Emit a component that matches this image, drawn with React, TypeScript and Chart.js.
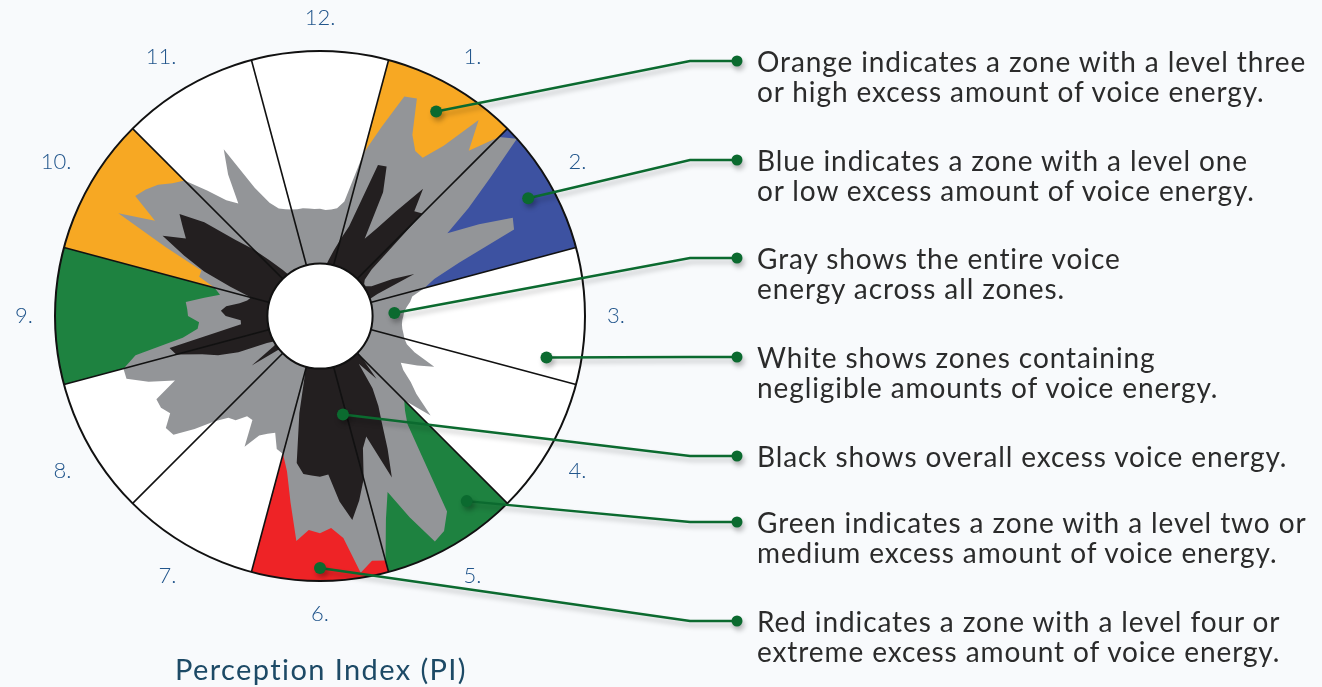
import React, { useEffect, useRef } from 'react';
import { Chart, registerables } from 'chart.js';

Chart.register(...registerables);

// One reading every 3 degrees, clockwise from 12 o'clock
const STEP_DEG = 3;
const OUTER_VALUE = 267;
const INNER_VALUE = 53;

const zoneLabels = ['12.', '1.', '2.', '3.', '4.', '5.', '6.', '7.', '8.', '9.', '10.', '11.'];
const zoneColors = ['white', 'orange', 'blue', 'white', 'white', 'green', 'red', 'white', 'white', 'green', 'orange', 'white'];
const palette: Record<string, string> = {
  white: '#ffffff',
  orange: '#F7A823',
  blue: '#3D52A1',
  green: '#1E8240',
  red: '#EE2326',
};

// Gray: entire voice energy (0°, 3°, ... 357°)
const grayEnergy = [
  108, 107, 108, 110, 118, 170, 200, 237, 240, 205,
  192, 190, 212, 254, 224, 255, 267, 220, 185, 153,
  185, 218, 214, 150, 121, 109, 95, 92, 88, 85,
  84, 83, 83, 84, 86, 88, 92, 102, 126, 110,
  94, 100, 113, 125, 150, 120, 128, 140, 175, 235,
  250, 255, 222, 190, 215, 255, 252, 262, 225, 214,
  219, 216, 228, 190, 160, 144, 141, 126, 130, 135,
  152, 125, 125, 135, 138, 150, 170, 190, 192, 180,
  185, 185, 160, 185, 205, 205, 190, 140, 124, 122,
  133, 134, 136, 118, 103, 110, 128, 128, 170, 228,
  192, 222, 217, 210, 200, 193, 170, 150, 140, 170,
  194, 145, 125, 116, 113, 111, 110, 110, 109, 108,
];

// Black: overall excess voice energy (0°, 3°, ... 357°)
const blackEnergy = [
  45, 45, 50, 58, 68, 80, 95, 163, 165, 140,
  90, 105, 130, 165, 142, 146, 70, 58, 55, 55,
  60, 82, 104, 62, 50, 45, 45, 45, 45, 45,
  45, 45, 45, 45, 45, 45, 45, 45, 45, 45,
  45, 45, 45, 45, 45, 60, 85, 62, 90, 108,
  125, 150, 178, 130, 140, 170, 190, 208, 188, 160,
  162, 161, 160, 150, 100, 56, 45, 45, 45, 45,
  45, 45, 45, 45, 45, 45, 45, 55, 85, 55,
  50, 60, 90, 110, 125, 150, 155, 105, 80, 80,
  95, 100, 95, 82, 75, 72, 95, 125, 150, 178,
  156, 165, 175, 150, 115, 95, 75, 60, 48, 48,
  48, 48, 48, 48, 48, 48, 48, 48, 48, 48,
];

const calloutLines = [
  ['Orange indicates a zone with a level three', 'or high excess amount of voice energy.'],
  ['Blue indicates a zone with a level one', 'or low excess amount of voice energy.'],
  ['Gray shows the entire voice', 'energy across all zones.'],
  ['White shows zones containing', 'negligible amounts of voice energy.'],
  ['Black shows overall excess voice energy.'],
  ['Green indicates a zone with a level two or', 'medium excess amount of voice energy.'],
  ['Red indicates a zone with a level four or', 'extreme excess amount of voice energy.'],
];
// where each callout touches the chart (angle in degrees, value on the radial scale)
const calloutAngles = [29.6, 60.5, 87.7, 100.4, 166.9, 141.6, 180];
const calloutValues = [237, 241, 75, 232, 102, 238, 254];

const TEXT_Y = [61, 160, 258, 357, 456, 522, 621];
const BEND_X = 690;
const DOT_X = 737;
const LEADER = '#0B6A2F';

export default function App() {
  const ref = useRef<HTMLCanvasElement>(null);

  useEffect(() => {
    const n = 360 / STEP_DEG;
    const labels = Array.from({ length: n }, (_, i) =>
      (i * STEP_DEG) % 30 === 0 ? zoneLabels[(i * STEP_DEG) / 30] : ''
    );
    const zoneAt = (deg: number) => Math.floor((((deg + 15) % 360) + 360) % 360 / 30);
    const sectorData = (color: string) =>
      labels.map((_, i) => {
        const deg = i * STEP_DEG;
        const a = zoneColors[zoneAt(deg + 0.01)];
        const b = zoneColors[zoneAt(deg - 0.01 + 360)];
        return a === color || b === color ? OUTER_VALUE : 0;
      });
    const ds = (label: string, data: number[], color: string) => ({
      label,
      data,
      backgroundColor: color,
      borderColor: 'rgba(0,0,0,0)',
      borderWidth: 0,
      fill: true,
      pointRadius: 0,
      pointHoverRadius: 0,
      tension: 0,
    });

    const overlay = {
      id: 'overlay',
      afterDraw(chart: any) {
        const s = chart.scales.r;
        const ctx = chart.ctx as CanvasRenderingContext2D;
        ctx.save();
        ctx.beginPath();
        ctx.arc(s.xCenter, s.yCenter, s.getDistanceFromCenterForValue(INNER_VALUE), 0, Math.PI * 2);
        ctx.fillStyle = '#ffffff';
        ctx.fill();
        ctx.lineWidth = 2;
        ctx.strokeStyle = '#111111';
        ctx.stroke();
        ctx.restore();

        calloutAngles.forEach((deg, k) => {
          const p = s.getPointPosition(deg / STEP_DEG, s.getDistanceFromCenterForValue(calloutValues[k]));
          const y = TEXT_Y[k];
          ctx.save();
          ctx.shadowColor = 'rgba(0,0,0,0.25)';
          ctx.shadowBlur = 5;
          ctx.shadowOffsetX = 2;
          ctx.shadowOffsetY = 4;
          ctx.strokeStyle = LEADER;
          ctx.lineWidth = 2.5;
          ctx.beginPath();
          ctx.moveTo(p.x, p.y);
          ctx.lineTo(BEND_X, y);
          ctx.lineTo(DOT_X, y);
          ctx.stroke();
          ctx.fillStyle = LEADER;
          ctx.beginPath();
          ctx.arc(p.x, p.y, 6, 0, Math.PI * 2);
          ctx.fill();
          ctx.beginPath();
          ctx.arc(DOT_X, y, 5.5, 0, Math.PI * 2);
          ctx.fill();
          ctx.restore();
        });
      },
    };

    const chart = new Chart(ref.current as HTMLCanvasElement, {
      type: 'radar',
      data: {
        labels,
        datasets: [
          ds('Excess voice energy', blackEnergy, '#231F20'),
          ds('Entire voice energy', grayEnergy, '#939598'),
          ds('Level three', sectorData('orange'), palette.orange),
          ds('Level one', sectorData('blue'), palette.blue),
          ds('Level two', sectorData('green'), palette.green),
          ds('Level four', sectorData('red'), palette.red),
          ds('Negligible', labels.map(() => OUTER_VALUE), palette.white),
        ],
      },
      options: {
        responsive: false,
        animation: false,
        events: [],
        layout: { padding: { left: 11, top: 7, right: 1322 - 629, bottom: 687 - 625 } },
        plugins: { legend: { display: false }, tooltip: { enabled: false } },
        scales: {
          r: {
            min: 0,
            max: OUTER_VALUE,
            startAngle: 0,
            ticks: { display: false, stepSize: OUTER_VALUE },
            grid: { z: 1, circular: true, color: '#111111', lineWidth: 2 },
            angleLines: {
              display: true,
              color: '#111111',
              lineWidth: (c: any) => ((c.index * STEP_DEG) % 30 === 15 ? 1.6 : 0),
            },
            pointLabels: {
              display: true,
              padding: 22,
              color: '#22568C',
              font: { family: 'Lato', size: 22, weight: '300', lineHeight: 1.0 },
            },
          },
        },
      } as any,
      plugins: [overlay],
    });
    return () => chart.destroy();
  }, []);

  return (
    <div
      style={{
        position: 'fixed',
        left: 0,
        top: 0,
        width: 1322,
        height: 687,
        background: '#F8FAFC',
        overflow: 'hidden',
      }}
    >
      <canvas ref={ref} width={1322} height={687} style={{ position: 'absolute', left: 0, top: 0 }} />
      {calloutLines.map((lines, k) => (
        <div
          key={k}
          style={{
            position: 'absolute',
            left: 757,
            top: TEXT_Y[k] - 15,
            fontFamily: 'Lato',
            fontSize: 28,
            letterSpacing: '0.9px',
            lineHeight: '30px',
            color: '#2B2B2B',
            whiteSpace: 'nowrap',
            fontVariantLigatures: 'none',
          }}
        >
          {lines.map((t, j) => (
            <div key={j}>{t}</div>
          ))}
        </div>
      ))}
      <div
        style={{
          position: 'absolute',
          left: 0,
          width: 642,
          top: 652,
          textAlign: 'center',
          fontFamily: 'Lato',
          fontSize: 29,
          letterSpacing: '1.4px',
          lineHeight: '34px',
          color: '#1D4A66',
          fontVariantLigatures: 'none',
        }}
      >
        Perception Index (PI)
      </div>
    </div>
  );
}
